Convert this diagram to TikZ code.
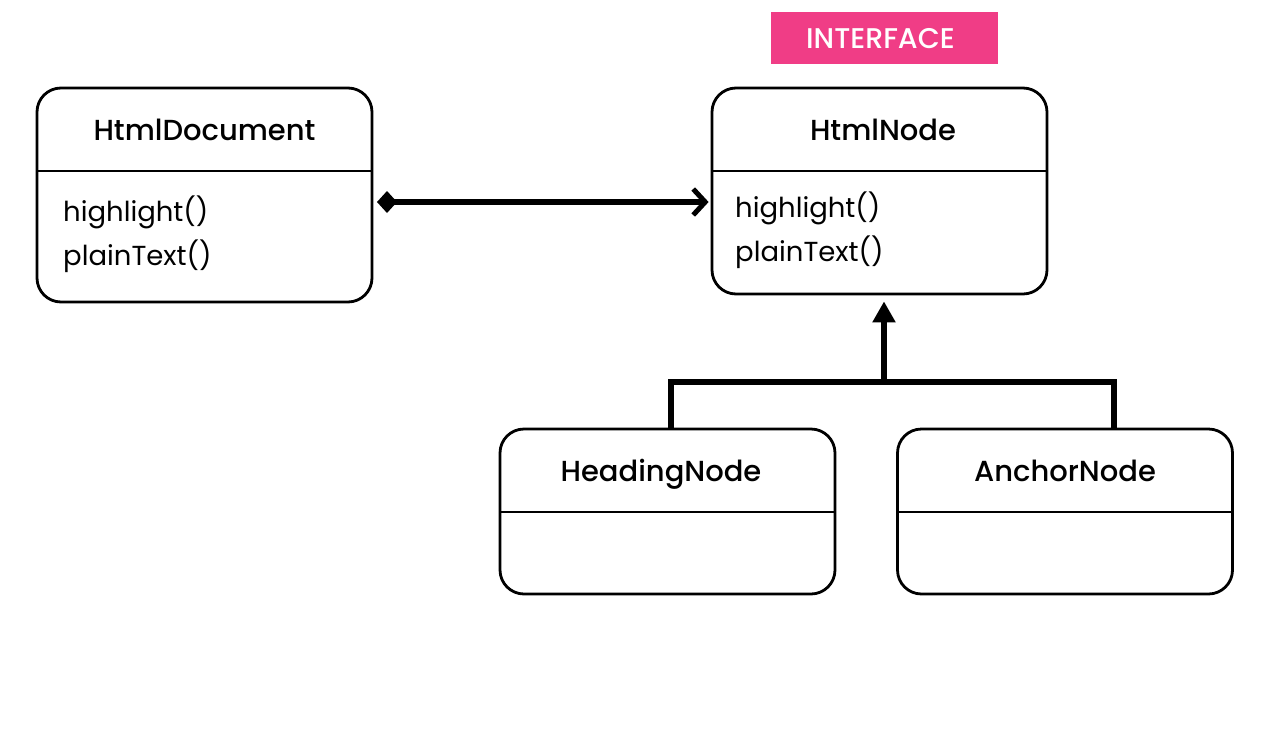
\documentclass[tikz,border=0pt]{standalone}
\usepackage{fontspec}
\setmainfont{Poppins}
\newfontfamily\titlefont{Poppins Medium}
\usetikzlibrary{arrows.meta,calc}
\definecolor{ifpink}{HTML}{F03D86}
\tikzset{
  classbox/.style={draw=black, line width=2.8pt, rounded corners=24pt, minimum width=335pt, inner sep=0pt},
  divider/.style={draw=black, line width=2.2pt},
  ctitle/.style={font=\titlefont\fontsize{29}{34}\selectfont, inner sep=0pt, anchor=base},
  cmethod/.style={font=\fontsize{27.5}{33}\selectfont, anchor=base west, inner sep=0pt},
  conn/.style={draw=black, line width=5.2pt},
}
\begin{document}
\begin{tikzpicture}[x=1pt,y=-1pt]
\useasboundingbox (0,0) rectangle (1276,734);
% interface label
\node[fill=ifpink, minimum width=227pt, minimum height=52pt, inner sep=0pt] (iface) at (884.5,38) {};
\node[text=white, font=\titlefont\fontsize{28.5}{33}\selectfont, inner sep=0pt, anchor=base] (ifacet) at (880.5,48) {INTERFACE};
% HtmlDocument
\node[classbox, minimum height=214pt] (doc) at (204.5,195) {};
\draw[divider] (37,171) coordinate (d1) -- (372,171) coordinate (d2);
\node[ctitle] (doct) at (204.5,140) {HtmlDocument};
\node[cmethod] (docm1) at (63,221.5) {highlight()};
\node[cmethod] (docm2) at (63,265) {plainText()};
% HtmlNode
\node[classbox, minimum height=206pt] (hnode) at (879.5,191) {};
\draw[divider] (712,171) coordinate (n1) -- (1047,171) coordinate (n2);
\node[ctitle] (hnodet) at (883,140) {HtmlNode};
\node[cmethod] (hm1) at (735,217) {highlight()};
\node[cmethod] (hm2) at (735,261.5) {plainText()};
% HeadingNode
\node[classbox, minimum height=165pt] (head) at (667.5,511.5) {};
\draw[divider] (500,512) coordinate (h1) -- (835,512) coordinate (h2);
\node[ctitle] (headt) at (661,481) {HeadingNode};
% AnchorNode
\node[classbox, minimum height=165pt] (anch) at (1065,511.5) {};
\draw[divider] (898,512) coordinate (a1) -- (1232,512) coordinate (a2);
\node[ctitle] (ancht) at (1065,481) {AnchorNode};
% composition
\coordinate (cstart) at (377,202);
\draw[conn, {Diamond[length=20pt,width=22pt]}-{Straight Barb[length=12pt,width=26pt,line width=5pt]}, shorten >=2pt]
  (cstart) -- (hnode.west |- cstart);
% inheritance
\coordinate (junc) at (884,382);
\draw[conn, -{Triangle[length=21pt,width=22pt]}, shorten >=6pt] (junc) -- (junc |- hnode.south);
\draw[conn, line cap=rect] (head.north -| 671,0) -- (671,382) -- (1114,382) -- (anch.north -| 1114,0);
\end{tikzpicture}
\end{document}
